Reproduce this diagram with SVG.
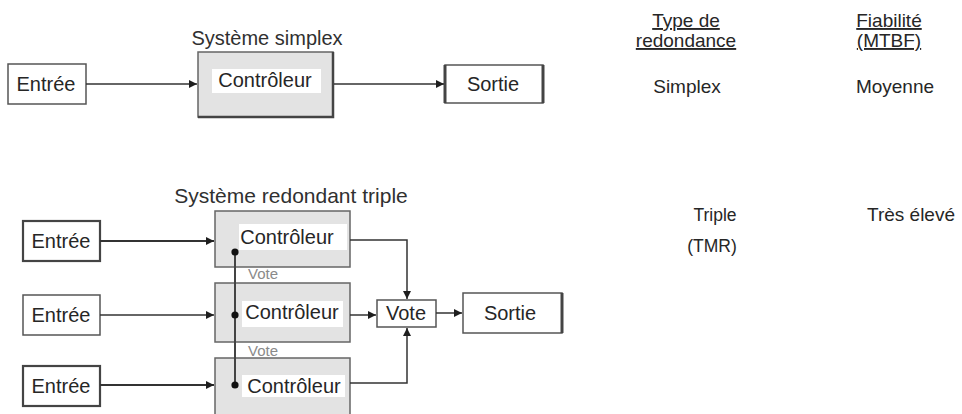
<svg xmlns="http://www.w3.org/2000/svg" width="962" height="414" viewBox="0 0 962 414">
  <defs>
    <marker id="arrow" viewBox="0 0 10 10" refX="10" refY="5" markerWidth="10" markerHeight="8" markerUnits="userSpaceOnUse" orient="auto">
      <path d="M0,0 L10,5 L0,10 z" fill="#1e1e1e"/>
    </marker>
  </defs>
  <style>
    text { font-family: "Liberation Sans", Arial, sans-serif; fill: #262626; }
    .lbl { font-size: 20px; text-anchor: middle; }
    .title { font-size: 20px; text-anchor: middle; fill: #303030; }
    .box { fill: #fff; stroke: #555; stroke-width: 1.5; }
    .boxb { fill: #fff; stroke: #444; stroke-width: 2.2; }
    .ctl { fill: #e3e3e3; stroke: #666; stroke-width: 1.5; }
    .pad { fill: #fff; }
    .shadow { stroke: #444; stroke-width: 3; fill: none; }
    .wire { fill: none; stroke: #333; stroke-width: 1.5; }
    .wire.thick { stroke-width: 2.2; }
    .bus { fill: none; stroke: #444; stroke-width: 2; }
    .dot { fill: #111; }
    .vote { font-size: 15px; fill: #8a8a8a; }
    .hdr { font-size: 19px; text-anchor: middle; text-decoration: underline; }
    .col { font-size: 19px; text-anchor: middle; }
    .small { font-size: 17.5px; text-anchor: middle; }
  </style>

  <!-- Simplex system -->
  <text class="title" x="267" y="45">Système simplex</text>

  <g id="s-entree">
    <rect class="box" x="8" y="64" width="78" height="40"/>
    <text class="lbl" x="46" y="91">Entrée</text>
  </g>
  <g id="s-ctl">
    <rect class="ctl" x="198" y="52" width="135" height="65"/>
    <path class="shadow" d="M333,52 V117 H198" style="stroke-width:2.5"/>
    <rect class="pad" x="212" y="69" width="109" height="24"/>
    <text class="lbl" x="265" y="87">Contrôleur</text>
  </g>
  <g id="s-sortie">
    <rect class="box" x="445" y="65" width="98" height="38"/>
    <path class="shadow" d="M445,65 V103 M543,65 V103"/>
    <text class="lbl" x="493" y="91">Sortie</text>
  </g>

  <!-- Triple modular redundancy -->
  <text class="title" x="291" y="203" style="font-size:21px">Système redondant triple</text>

  <g id="t-entree1">
    <rect class="boxb" x="23" y="221" width="77" height="40"/>
    <text class="lbl" x="61" y="248">Entrée</text>
  </g>
  <g id="t-entree2">
    <rect class="box" x="23" y="295" width="77" height="40"/>
    <text class="lbl" x="61" y="322">Entrée</text>
  </g>
  <g id="t-entree3">
    <rect class="boxb" x="23" y="366" width="77" height="40"/>
    <text class="lbl" x="61" y="393">Entrée</text>
  </g>

  <g id="t-ctl1">
    <rect class="ctl" x="215" y="211" width="135" height="56"/>
    <rect class="pad" x="239" y="224" width="108" height="26"/>
    <text class="lbl" x="287" y="244">Contrôleur</text>
  </g>
  <g id="t-ctl2">
    <rect class="ctl" x="215" y="283" width="135" height="59"/>
    <rect class="pad" x="242" y="301" width="101" height="26"/>
    <text class="lbl" x="292" y="319">Contrôleur</text>
  </g>
  <g id="t-ctl3">
    <rect class="ctl" x="215" y="358" width="135" height="62"/>
    <rect class="pad" x="242" y="375" width="103" height="22"/>
    <text class="lbl" x="294" y="393">Contrôleur</text>
  </g>

  <g id="t-voter">
    <rect class="box" x="377" y="300" width="59" height="27"/>
    <text class="lbl" x="406" y="320">Vote</text>
  </g>
  <g id="t-sortie">
    <rect class="box" x="463" y="293" width="99" height="40"/>
    <path class="shadow" d="M562,293 V333"/>
    <text class="lbl" x="510" y="320">Sortie</text>
  </g>

  <!-- Cross-channel vote bus -->
  <g id="vote-bus">
    <path class="bus" d="M235,252 V385"/>
    <circle class="dot" cx="235" cy="252" r="3.6"/>
    <circle class="dot" cx="235" cy="315" r="3.6"/>
    <circle class="dot" cx="235" cy="385" r="3.6"/>
    <text class="vote" x="248" y="279">Vote</text>
    <text class="vote" x="248" y="356">Vote</text>
  </g>

  <!-- Connectors -->
  <g id="connectors">
    <path class="wire" d="M86,84 H197" marker-end="url(#arrow)"/>
    <path class="wire" d="M334,84 H444" marker-end="url(#arrow)"/>

    <path class="wire thick" d="M100,241 H214" marker-end="url(#arrow)"/>
    <path class="wire" d="M100,315 H214" marker-end="url(#arrow)"/>
    <path class="wire thick" d="M100,385 H214" marker-end="url(#arrow)"/>

    <path class="wire" d="M350,240 H407 V299" marker-end="url(#arrow)"/>
    <path class="wire" d="M350,315 H376" marker-end="url(#arrow)"/>
    <path class="wire" d="M350,383 H407 V328" marker-end="url(#arrow)"/>
    <path class="wire" d="M436,313 H462" marker-end="url(#arrow)"/>
  </g>

  <!-- Comparison table -->
  <g id="table">
    <text class="hdr" x="686" y="27">Type de</text>
    <text class="hdr" x="686" y="47">redondance</text>
    <text class="hdr" x="889" y="27">Fiabilité</text>
    <text class="hdr" x="889" y="47">(MTBF)</text>
    <text class="col" x="687" y="93">Simplex</text>
    <text class="col" x="895" y="93">Moyenne</text>
    <text class="small" x="715" y="221">Triple</text>
    <text class="small" x="712" y="252">(TMR)</text>
    <text class="col" x="867" y="221" style="text-anchor:start">Très élevé</text>
  </g>
</svg>
